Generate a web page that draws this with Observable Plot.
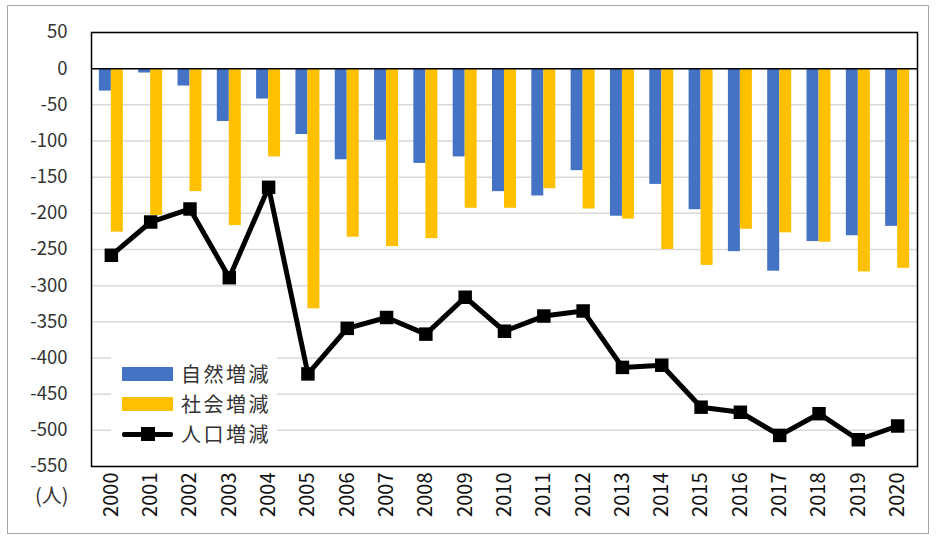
<!DOCTYPE html>
<html>
<head>
<meta charset="utf-8">
<script src="https://cdn.jsdelivr.net/npm/d3@7"></script>
<script src="https://cdn.jsdelivr.net/npm/@observablehq/plot@0.6"></script>
<style>
  html, body { margin: 0; padding: 0; background: #fff; }
  body { width: 937px; height: 539px; position: relative; overflow: hidden; font-family: "Noto Sans CJK JP", "Noto Sans", sans-serif; }
  #border { position: absolute; left: 7px; top: 5px; width: 922px; height: 529px; border: 1px solid #a6a6a6; box-sizing: border-box; pointer-events: none; }
  #chart { position: absolute; left: 0; top: 0; }
  #unit { position: absolute; left: 35px; top: 480px; font-size: 20px; color: #333; }
  #legend { position: absolute; left: 111px; top: 356px; width: 166px; height: 96px; background: #fff; }
  .item { position: absolute; left: 11px; height: 30px; display: flex; align-items: center; font-size: 20px; letter-spacing: 2.5px; line-height: 1; color: #333; white-space: nowrap; }
  .item span { display: block; line-height: 1; }
  .sw { width: 51px; height: 14px; margin-right: 8px; }
  .ln { width: 51px; height: 14px; margin-right: 8px; position: relative; }
  .ln::before { content: ""; position: absolute; left: 0; right: 0; top: 5px; height: 4.5px; background: #000; border-radius: 2px; }
  .ln::after { content: ""; position: absolute; left: 19px; top: 0; width: 14px; height: 14px; background: #000; }
</style>
</head>
<body>
<div id="chart"></div>
<div id="unit">(人)</div>
<div id="legend">
  <div class="item" style="top:3px"><div class="sw" style="background:#4472C4"></div><span>自然増減</span></div>
  <div class="item" style="top:33px"><div class="sw" style="background:#FFC000"></div><span>社会増減</span></div>
  <div class="item" style="top:63px"><div class="ln"></div><span>人口増減</span></div>
</div>
<div id="border"></div>
<script>
const years = ["2000","2001","2002","2003","2004","2005","2006","2007","2008","2009","2010",
               "2011","2012","2013","2014","2015","2016","2017","2018","2019","2020"];
const natural = [-31,-6,-24,-73,-42,-91,-126,-99,-131,-122,-170,-176,-141,-204,-160,-195,-253,-280,-239,-231,-218];
const social  = [-226,-203,-170,-217,-122,-332,-233,-246,-235,-193,-193,-166,-194,-208,-250,-272,-222,-227,-240,-281,-276];
const total   = [-258,-212,-194,-289,-164,-422,-359,-344,-367,-316,-363,-342,-335,-413,-410,-468,-475,-507,-477,-513,-494];
const yTicks = [50,0,-50,-100,-150,-200,-250,-300,-350,-400,-450,-500,-550];

const rows = years.map((y, i) => ({year: y, natural: natural[i], social: social[i], total: total[i]}));

const chart = Plot.plot({
  width: 937,
  height: 539,
  marginLeft: 91,
  marginRight: 20,
  marginTop: 32,
  marginBottom: 73,
  style: {fontFamily: '"Noto Sans CJK JP", "Noto Sans", sans-serif', background: "transparent", color: "#333"},
  x: {type: "band", domain: years, paddingInner: 0.39, paddingOuter: 0.2, round: false, label: null},
  y: {domain: [-550, 50], label: null},
  marks: [
    Plot.gridY(yTicks, {stroke: "#d9d9d9", strokeOpacity: 1, strokeWidth: 1.5}),
    Plot.axisY(yTicks, {tickSize: 0, tickPadding: 24, fontSize: 18.5, tickFormat: d => String(d), fill: "#333"}),
    Plot.axisX({tickSize: 0, tickPadding: 6, tickRotate: -90, fontSize: 20, fill: "#111"}),
    Plot.barY(rows, {x: "year", y: "natural", fill: "#4472C4", insetRight: 12}),
    Plot.barY(rows, {x: "year", y: "social", fill: "#FFC000", insetLeft: 12}),
    Plot.ruleY([0], {stroke: "#000", strokeWidth: 1.5}),
    Plot.line(rows, {x: "year", y: "total", stroke: "#000", strokeWidth: 5, strokeLinejoin: "miter"}),
    Plot.dot(rows, {x: "year", y: "total", symbol: "square", r: 7.6, fill: "#000", stroke: null}),
    Plot.frame({stroke: "#000", strokeWidth: 1.5})
  ]
});
document.getElementById("chart").appendChild(chart);
</script>
</body>
</html>
